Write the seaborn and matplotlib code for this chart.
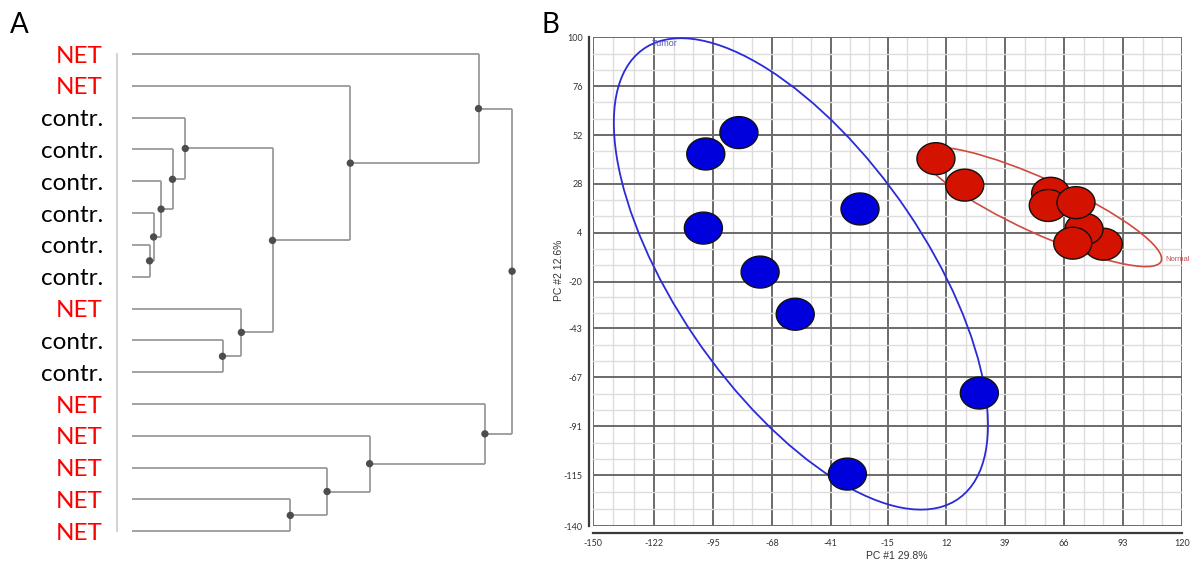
import numpy as np
import pandas as pd
import matplotlib
matplotlib.use("Agg")
import matplotlib.pyplot as plt
from matplotlib.path import Path
from matplotlib.patches import Ellipse
from matplotlib.collections import LineCollection
import seaborn as sns

# ---------------- Panel A: hierarchical clustering ----------------
leaf_labels = ["NET", "NET", "contr.", "contr.", "contr.", "contr.", "contr.", "contr.",
               "NET", "contr.", "contr.", "NET", "NET", "NET", "NET", "NET"]
# merges (leaves 0..15 in display order; new clusters numbered from 16 on)
merge_left = [6, 5, 4, 3, 2, 9, 8, 20, 1, 0, 14, 13, 12, 11, 25]
merge_right = [7, 16, 17, 18, 19, 10, 21, 22, 23, 24, 15, 26, 27, 28, 29]
merge_height = [17.6, 21.6, 29.1, 40.5, 53.3, 90.5, 109.4, 140.5, 218.3, 346.5,
                158.3, 195.1, 237.6, 352.9, 380.1]

# ---------------- Panel B: principal components ----------------
tumor_pc1 = [-98.3, -83.1, -99.4, -73.4, -57.3, -27.6, 27.1, -33.4]
tumor_pc2 = [42.7, 53.2, 6.3, -15.3, -36.0, 15.7, -74.7, -114.5]
normal_pc1 = [7.2, 20.4, 59.8, 58.7, 83.9, 75.1, 71.4, 69.9]
normal_pc2 = [40.4, 27.4, 23.4, 17.4, -1.6, 5.8, 18.8, -1.1]
pc1_ticks = [-150, -122, -95, -68, -41, -15, 12, 39, 66, 93, 120]
pc2_ticks = [100, 76, 52, 28, 4, -20, -43, -67, -91, -115, -140]
# group ellipses: centre, full axis lengths, rotation (degrees)
tumor_ellipse = dict(xy=(-54.7, -16.2), width=264.0, height=115.4, angle=-57.7)
normal_ellipse = dict(xy=(55.8, 16.7), width=121.6, height=26.2, angle=-26.2)

sns.set_style("white")
plt.rcParams["font.family"] = ["Lato", "DejaVu Sans"]

fig = plt.figure(figsize=(11.92, 5.65), dpi=100)

# ---------- dendrogram ----------
axd = fig.add_axes([117 / 1192, 17.8 / 565, 413 / 1192, 509.1 / 565])
n = len(leaf_labels)
pos = {i: (0.0, float(i)) for i in range(n)}
segments, node_x, node_y = [], [], []
for k, (a, b, h) in enumerate(zip(merge_left, merge_right, merge_height)):
    xa, ya = pos[a]
    xb, yb = pos[b]
    segments += [[(xa, ya), (h, ya)], [(xb, yb), (h, yb)], [(h, ya), (h, yb)]]
    ym = (ya + yb) / 2
    pos[n + k] = (h, ym)
    node_x.append(h)
    node_y.append(ym)

axd.add_collection(LineCollection(segments, colors="#9a9a9a", linewidths=1.3, zorder=1))
sns.scatterplot(x=node_x, y=node_y, ax=axd, color="#4d4d4d", s=28,
                edgecolor="none", zorder=3, legend=False)
axd.set_xlim(-15, 398)
axd.set_ylim(n - 0.5, -0.5)
for s in ["top", "right", "bottom"]:
    axd.spines[s].set_visible(False)
axd.spines["left"].set_color("#cfcfcf")
axd.spines["left"].set_linewidth(1.3)
axd.spines["left"].set_bounds(0, n - 1)
axd.set_xticks([])
axd.set_yticks(range(n))
axd.set_yticklabels(leaf_labels)
axd.tick_params(axis="y", length=5, width=1, color="#cfcfcf", pad=5, labelsize=17.5)
for lbl, name in zip(axd.get_yticklabels(), leaf_labels):
    lbl.set_color("#ff0000" if name == "NET" else "#000000")

# ---------- PCA scatter ----------
axp = fig.add_axes([593 / 1192, 39 / 565, 589 / 1192, 488.7 / 565])
axp.set_xlim(pc1_ticks[0], pc1_ticks[-1])
axp.set_ylim(pc2_ticks[-1], pc2_ticks[0])

def minor_between(majors, parts=3):
    m = sorted(majors)
    out = []
    for lo, hi in zip(m[:-1], m[1:]):
        out += list(np.linspace(lo, hi, parts + 1)[1:-1])
    return out

axp.set_xticks(pc1_ticks)
axp.set_yticks(pc2_ticks)
axp.set_xticks(minor_between(pc1_ticks), minor=True)
axp.set_yticks(minor_between(pc2_ticks), minor=True)
axp.set_xticklabels([str(v) for v in pc1_ticks])
axp.set_yticklabels([str(v) for v in pc2_ticks])
axp.set_axisbelow(True)
axp.grid(which="major", color="#6a6a6a", linewidth=1.4)
axp.grid(which="minor", color="#dddddd", linewidth=1.0)
axp.tick_params(which="minor", length=0)
axp.tick_params(which="major", length=3, width=1, color="#333333",
                labelsize=6.5, labelcolor="#333333", pad=1.5)
for lbl in axp.get_xticklabels() + axp.get_yticklabels():
    lbl.set_family(["Liberation Sans", "DejaVu Sans"])

axp.spines["top"].set_visible(False)
axp.spines["right"].set_visible(False)
axp.spines["left"].set_position(("outward", 3))
axp.spines["bottom"].set_position(("outward", 5))
for s in ["left", "bottom"]:
    axp.spines[s].set_color("#3a3a3a")
    axp.spines[s].set_linewidth(1.6)

axp.add_patch(Ellipse(**tumor_ellipse, fill=False, edgecolor="#2b2bd6", linewidth=1.3, zorder=2))
axp.add_patch(Ellipse(**normal_ellipse, fill=False, edgecolor="#d04a40", linewidth=1.2, zorder=2))

t = np.linspace(0, 2 * np.pi, 73)
oval = Path(np.column_stack([0.5 * np.cos(t), 0.42 * np.sin(t)]), closed=True)

pca = pd.DataFrame({
    "PC1": tumor_pc1 + normal_pc1,
    "PC2": tumor_pc2 + normal_pc2,
    "group": ["Tumor"] * len(tumor_pc1) + ["Normal"] * len(normal_pc1),
})
sns.scatterplot(data=pca, x="PC1", y="PC2", hue="group",
                palette={"Tumor": "#0000dd", "Normal": "#d41200"},
                marker=oval, s=750, edgecolor="#111111", linewidth=1.0,
                legend=False, ax=axp, zorder=3)

axp.text(-123.1, 97.0, "Tumor", color="#5a5ab8", fontsize=6.5, ha="left", va="center",
         family=["Liberation Sans", "DejaVu Sans"], zorder=4)
axp.text(112.2, -9.3, "Normal", color="#c85050", fontsize=5.5, ha="left", va="center",
         family=["Liberation Sans", "DejaVu Sans"], clip_on=False, zorder=4)

axp.set_xlabel("PC #1 29.8%", fontsize=7.5, color="#333333",
               family=["Liberation Sans", "DejaVu Sans"])
axp.set_ylabel("PC #2 12.6%", fontsize=7.5, color="#333333",
               family=["Liberation Sans", "DejaVu Sans"])
axp.xaxis.set_label_coords(0.516, -0.052)
axp.yaxis.set_label_coords(-0.05, 0.524)

fig.text(10 / 1192, 1 - 33 / 565, "A", fontsize=20, color="black", ha="left", va="baseline")
fig.text(541 / 1192, 1 - 33 / 565, "B", fontsize=20, color="black", ha="left", va="baseline")

fig.savefig("out.png", dpi=100)
